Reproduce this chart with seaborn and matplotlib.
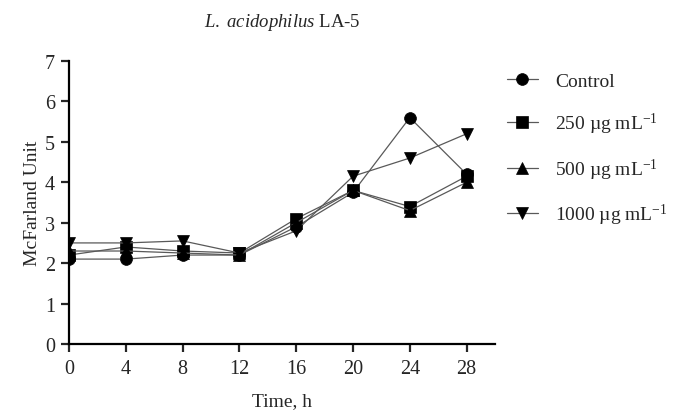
import numpy as np
import pandas as pd
import matplotlib
matplotlib.use("Agg")
import matplotlib.pyplot as plt
import seaborn as sns

# data
time_h = [0, 4, 8, 12, 16, 20, 24, 28]
control = [2.1, 2.1, 2.2, 2.2, 2.9, 3.75, 5.6, 4.2]
c250 = [2.2, 2.4, 2.3, 2.25, 3.1, 3.8, 3.4, 4.15]
c500 = [2.3, 2.3, 2.25, 2.2, 3.0, 3.8, 3.3, 4.0]
c1000 = [2.5, 2.5, 2.55, 2.25, 2.8, 4.15, 4.6, 5.2]
groups = ["Control", "250 µg mL$^{-1}$", "500 µg mL$^{-1}$", "1000 µg mL$^{-1}$"]
yticks = [0, 1, 2, 3, 4, 5, 6, 7]
xticks = [0, 4, 8, 12, 16, 20, 24, 28]

df = pd.DataFrame({
    "Time": time_h * 4,
    "Unit": control + c250 + c500 + c1000,
    "Group": np.repeat(groups, len(time_h)),
})

sns.set_style("ticks")
plt.rcParams["font.family"] = ["Liberation Serif", "DejaVu Serif"]
plt.rcParams["mathtext.fontset"] = "custom"
plt.rcParams["mathtext.rm"] = "Liberation Serif"
plt.rcParams["mathtext.it"] = "Liberation Serif:italic"

fig = plt.figure(figsize=(6.86, 4.14), dpi=100)
ax = fig.add_axes([0.1006, 0.1667, 0.621, 0.6835])

marker_map = dict(zip(groups, ["o", "s", "^", "v"]))
sns.lineplot(data=df, x="Time", y="Unit", style="Group", markers=marker_map,
             dashes=False, color="0.35", linewidth=0.9, markersize=8.5,
             markerfacecolor="black", markeredgecolor="black", markeredgewidth=0.5,
             legend=False, ax=ax)

ax.set_xlim(0, 30)
ax.set_ylim(0, 7)
ax.set_xticks(xticks)
ax.set_yticks(yticks)
ax.tick_params(axis="both", direction="out", length=6, width=1.6, labelsize=14.5)
ax.tick_params(axis="x", pad=5)
ax.tick_params(axis="y", pad=4)
for side in ["top", "right"]:
    ax.spines[side].set_visible(False)
for side in ["left", "bottom"]:
    ax.spines[side].set_linewidth(1.6)
    ax.spines[side].set_color("black")
ax.set_xlabel("Time, h", fontsize=14, labelpad=10)
ax.set_ylabel("McFarland Unit", fontsize=14, labelpad=3)
ax.set_title("$\\mathit{L.\\ acidophilus}$ LA-5", fontsize=13.5, pad=25)

lines = ax.get_lines()[:4]
ax.legend(lines, groups, loc="upper left", bbox_to_anchor=(1.0, 1.0), frameon=False,
          fontsize=14, labelspacing=1.05, handlelength=1.6, handletextpad=0.9,
          borderaxespad=0.2)

fig.savefig("out.png", dpi=100)
